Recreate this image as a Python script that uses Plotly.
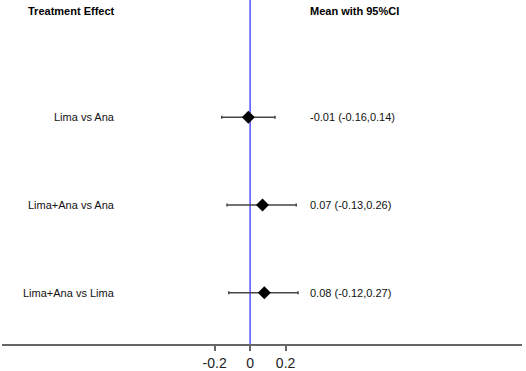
import plotly.graph_objects as go

labels = ["Lima vs Ana", "Lima+Ana vs Ana", "Lima+Ana vs Lima"]
means = [-0.01, 0.07, 0.08]
lower = [-0.16, -0.13, -0.12]
upper = [0.14, 0.26, 0.27]
rows = [3, 2, 1]
tick_vals = [-0.2, 0, 0.2]
tick_text = ["-0.2", "0", "0.2"]

err_plus = [u - m for u, m in zip(upper, means)]
err_minus = [m - l for m, l in zip(means, lower)]
ci_text = [f"{m:.2f} ({l:.2f},{u:.2f})" for m, l, u in zip(means, lower, upper)]

FONT = "Liberation Sans, Arial, sans-serif"

fig = go.Figure()
fig.add_trace(go.Scatter(
    x=means, y=rows, mode="markers",
    marker=dict(symbol="diamond", size=10, color="black"),
    error_x=dict(type="data", symmetric=False, array=err_plus, arrayminus=err_minus,
                 color="#4a4444", thickness=1.5, width=1.5),
    showlegend=False, hoverinfo="skip",
))

fig.add_shape(type="line", xref="x", yref="paper", x0=0, x1=0, y0=0, y1=1,
              line=dict(color="#3a3aff", width=1.3), layer="below")

LEFT_X = 0.221
RIGHT_X = 0.5885
header_y = 4.215
fig.add_annotation(x=LEFT_X, xref="paper", y=header_y, yref="y", text="<b>Treatment Effect</b>",
                   showarrow=False, xanchor="right", yanchor="middle",
                   font=dict(family=FONT, size=11, color="black"))
fig.add_annotation(x=RIGHT_X, xref="paper", y=header_y, yref="y", text="<b>Mean with 95%CI</b>",
                   showarrow=False, xanchor="left", yanchor="middle",
                   font=dict(family=FONT, size=11, color="black"))
for lab, r, t in zip(labels, rows, ci_text):
    fig.add_annotation(x=LEFT_X, xref="paper", y=r, yref="y", text=lab,
                       showarrow=False, xanchor="right", yanchor="middle",
                       font=dict(family=FONT, size=11, color="#111"))
    fig.add_annotation(x=RIGHT_X, xref="paper", y=r, yref="y", text=t,
                       showarrow=False, xanchor="left", yanchor="middle",
                       font=dict(family=FONT, size=11, color="#111"))

fig.update_layout(
    width=526, height=371,
    margin=dict(l=2, r=4, t=0, b=22),
    paper_bgcolor="white", plot_bgcolor="white",
    font=dict(family=FONT),
    xaxis=dict(range=[-1.398, 1.532], tickvals=tick_vals, ticktext=tick_text,
               showgrid=False, zeroline=False, showline=True, linecolor="#666",
               linewidth=2, ticks="outside", ticklen=5, tickwidth=1.5, tickcolor="#666",
               tickfont=dict(family=FONT, size=14, color="#222"), fixedrange=True),
    yaxis=dict(range=[0.416, 4.337], visible=False, showgrid=False, zeroline=False,
               fixedrange=True),
)

fig.write_html("out.html", config={"displayModeBar": False},
               post_script="document.body.style.margin='0';document.body.style.overflow='hidden';")
